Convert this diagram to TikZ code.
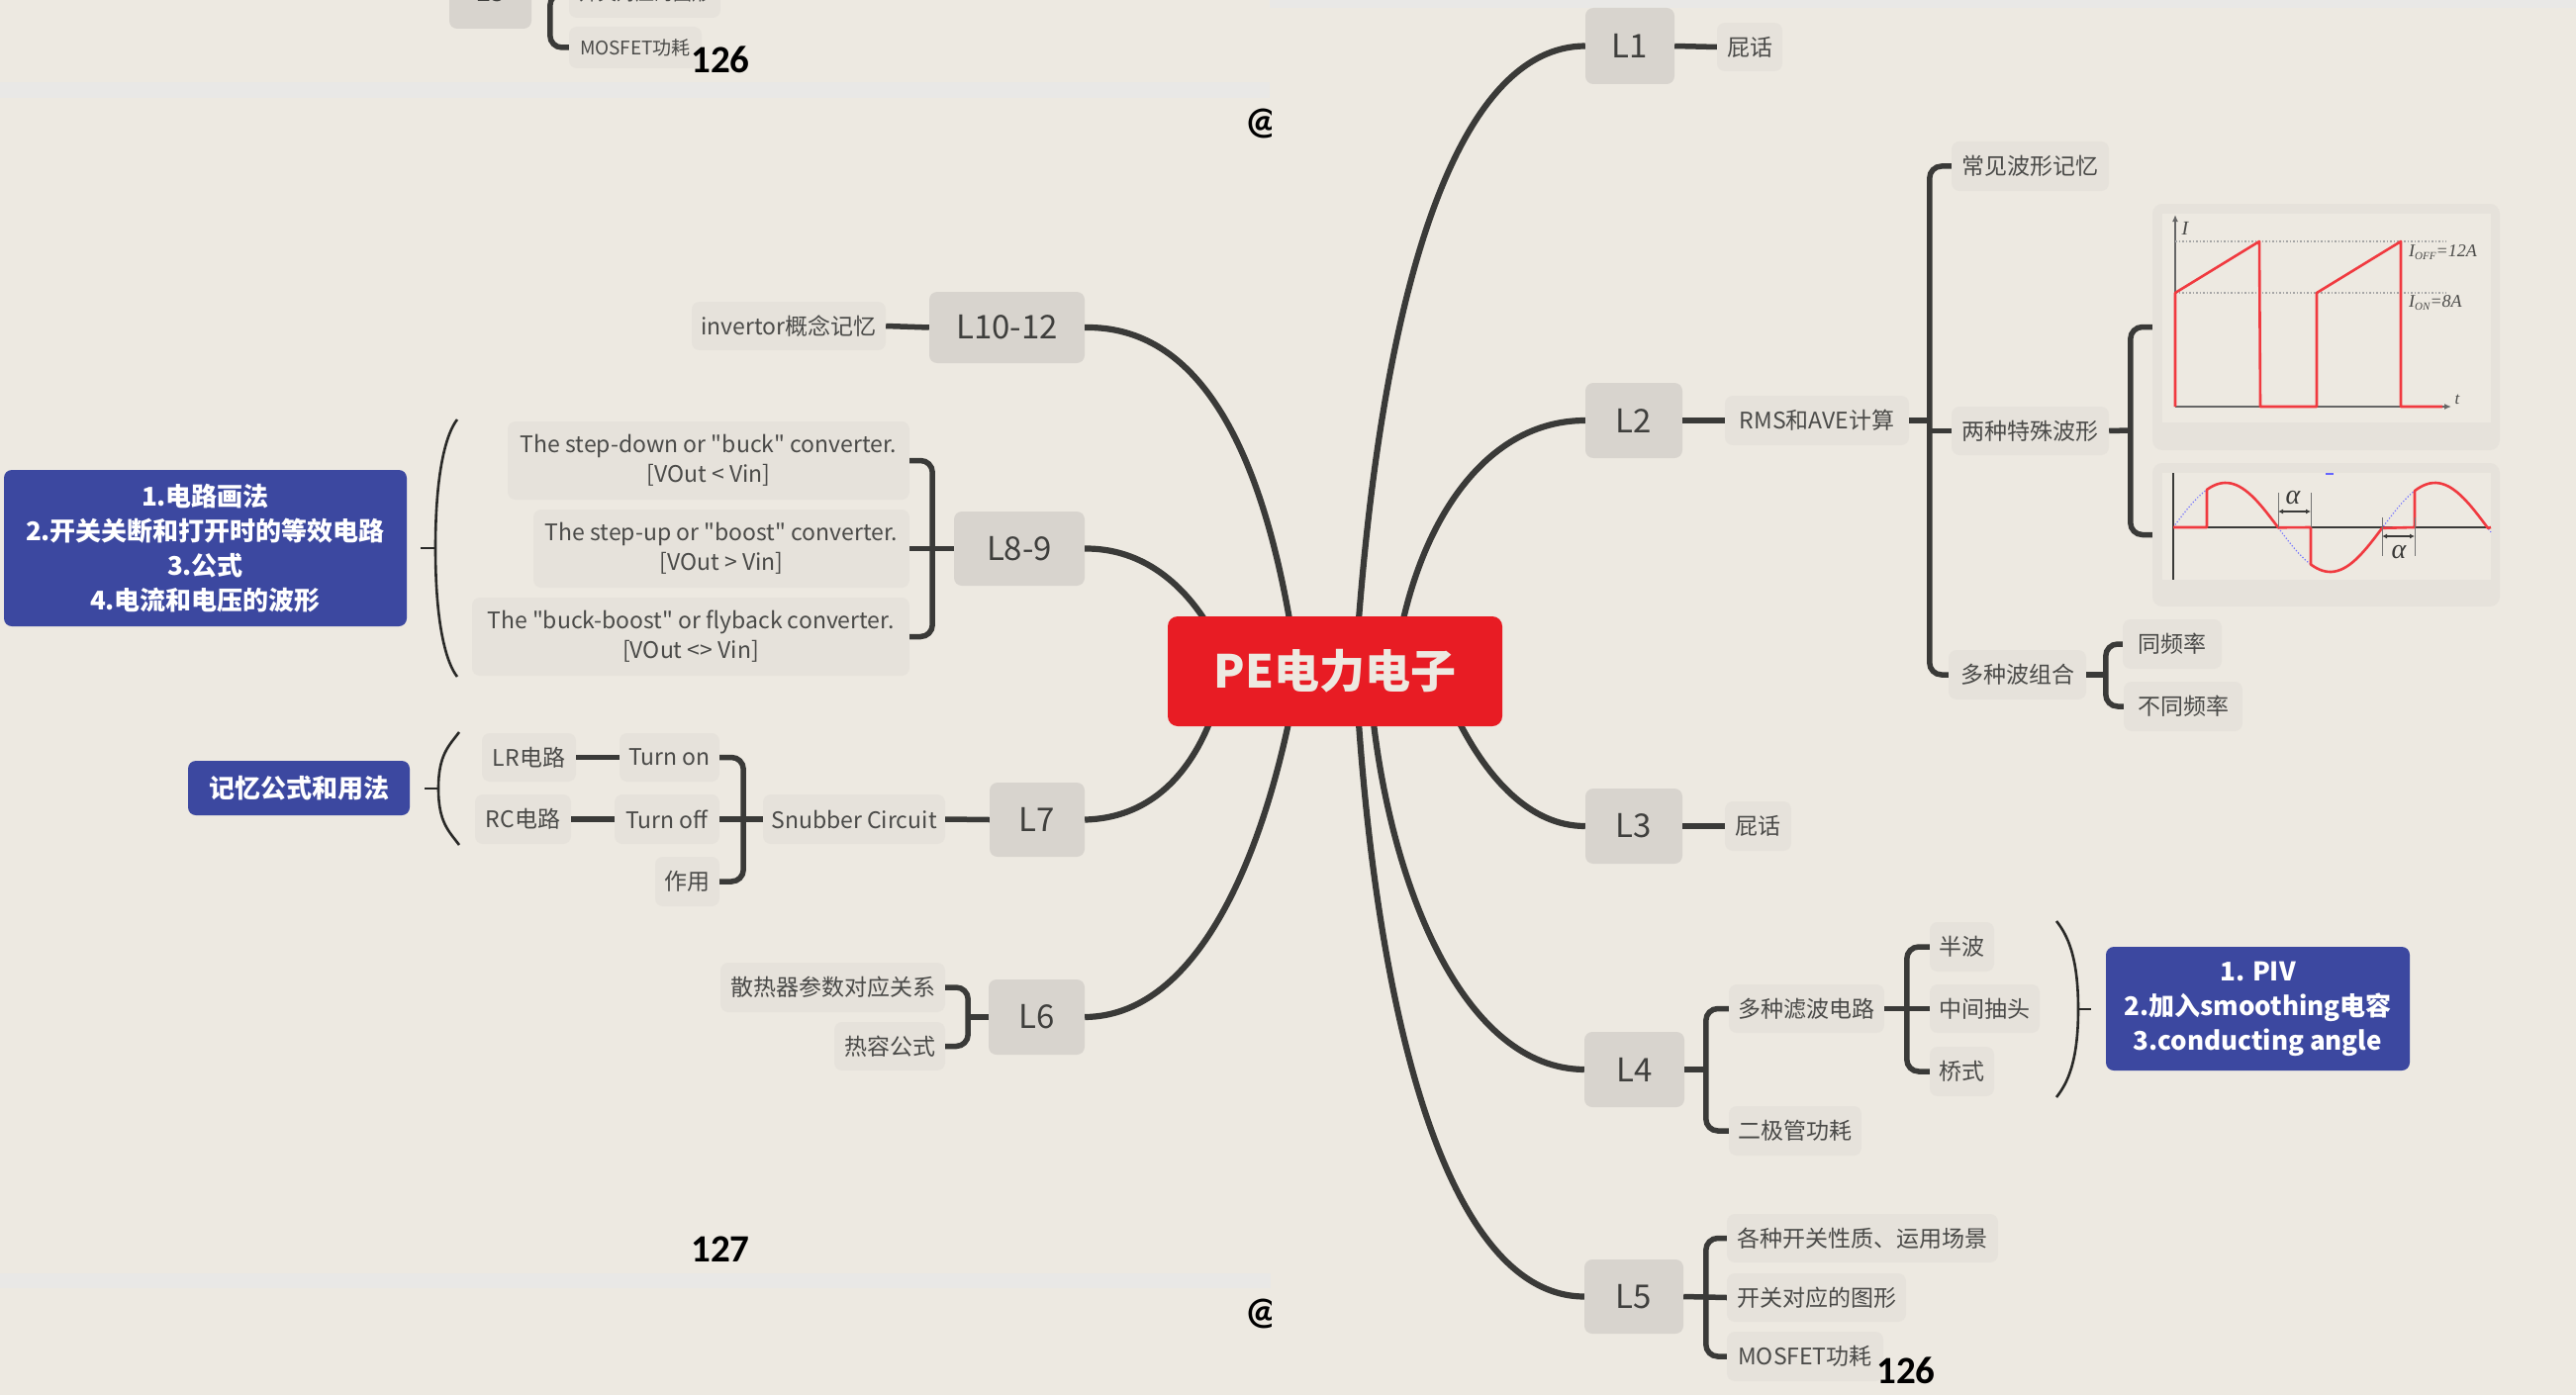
\documentclass[tikz,border=0pt]{standalone}
\usepackage{fontspec}
\setmainfont{Noto Sans CJK SC}
\newfontfamily\plainf{Noto Sans CJK SC}
\newfontfamily\serf{Liberation Serif}
\newfontfamily\carl{Carlito}
\newcommand\stq{{\plainf\char34\relax}}
\usetikzlibrary{arrows.meta}
\definecolor{bgc}{HTML}{EDE9E1}
\definecolor{stripec}{HTML}{E9E8E6}
\definecolor{subc}{HTML}{E6E2DB}
\definecolor{lvlc}{HTML}{D8D4CE}
\definecolor{redc}{HTML}{E81C24}
\definecolor{bluec}{HTML}{3C48A0}
\definecolor{linec}{HTML}{3A3A38}
\definecolor{txtc}{HTML}{4A4A48}
\definecolor{wave}{HTML}{F03A40}
\tikzset{
 x=1pt,y=-1pt,
 subn/.style={fill=subc,rounded corners=8pt,text=txtc,font=\fontsize{23}{30}\selectfont,align=center,inner sep=0pt},
 lvln/.style={fill=lvlc,rounded corners=8pt,text=txtc!85!black,font=\fontsize{33}{40}\selectfont,inner sep=0pt},
 bluen/.style={fill=bluec,rounded corners=8pt,text=white,font=\fontsize{26}{35}\selectfont\bfseries,align=center,inner sep=0pt},
 rootn/.style={fill=redc,rounded corners=10pt,text=bgc,font=\fontsize{46}{50}\selectfont\bfseries,inner sep=0pt},
 mainl/.style={draw=linec,line width=6.2pt},
 conn/.style={draw=linec,line width=5.5pt,rounded corners=12pt},
 bracec/.style={draw=linec!70!black,line width=2.6pt},
 pagen/.style={font=\fontsize{39}{40}\selectfont\carl\bfseries,text=black,inner sep=0pt},
 frm/.style={fill=subc,rounded corners=10pt},
 inn/.style={fill=bgc},
}
\newcommand\bx[7]{\node[#6,minimum width={(#4-#2)*1pt},minimum height={(#5-#3)*1pt},at={({(#2+#4)/2},{(#3+#5)/2})}] (#1) {#7};}
% left-opening brace: tipx, y1, y2, bodyx, tickx
\newcommand\brc[5]{\draw[bracec] (#1,#2) .. controls ({(#1+#4)/2},{#2+14}) and (#4,{#2+(#3-#2)*0.2}) .. (#4,{(#2+#3)/2}) .. controls (#4,{#3-(#3-#2)*0.2}) and ({(#1+#4)/2},{#3-14}) .. (#1,#3);
 \draw[bracec] (#5,{(#2+#3)/2}) -- (#4,{(#2+#3)/2});}
\begin{document}
\begin{tikzpicture}
\useasboundingbox (0,0) rectangle (2603,1410);
\clip (0,0) rectangle (2603,1410);
\fill[bgc] (0,0) rectangle (2603,1410);
\fill[stripec] (0,83) rectangle (1283,99);
\fill[stripec] (1283,0) rectangle (2603,8);
\fill[stripec] (0,1287) rectangle (1284,1302);
% page marks clipped at the seam
\begin{scope}
\clip (1200,100) rectangle (1284,160);
\node[pagen] (at1) at (1276,125) {@};
\end{scope}
\begin{scope}
\clip (1200,1303) rectangle (1284,1360);
\node[pagen] (at2) at (1276,1328) {@};
\end{scope}

% level nodes
\bx{L1}{1602}{8}{1692}{85}{lvln}{L1}
\bx{L2}{1602}{387}{1700}{463}{lvln}{L2}
\bx{L3}{1602}{797}{1700}{873}{lvln}{L3}
\bx{L4}{1601}{1043}{1702}{1119}{lvln}{L4}
\bx{L5}{1601}{1273}{1701}{1348}{lvln}{L5}
\bx{L10}{939}{295}{1096}{367}{lvln}{L10-12}
\bx{L8}{964}{517}{1096}{592}{lvln}{L8-9}
\bx{L7}{1000}{791}{1096}{866}{lvln}{L7}
\bx{L6}{999}{990}{1096}{1066}{lvln}{L6}

% root attachment points
\coordinate (rL10) at (1303,626);
\coordinate (rL8) at (1217,626);
\coordinate (rL7) at (1222,731);
\coordinate (rL6) at (1302,731);
\coordinate (rL1) at (1373,626);
\coordinate (rL2) at (1418,626);
\coordinate (rL3) at (1475,731);
\coordinate (rL4) at (1388,731);
\coordinate (rL5) at (1373,731);
\draw[mainl] (L10.east) .. controls (1210,329) and (1272,450) .. (rL10);
\draw[mainl] (L8.east) .. controls (1150,554) and (1190,585) .. (rL8);
\draw[mainl] (L7.east) .. controls (1160,827) and (1200,785) .. (rL7);
\draw[mainl] (L6.east) .. controls (1205,1027) and (1270,880) .. (rL6);
\draw[mainl] (L1.west) .. controls (1475,47) and (1400,280) .. (rL1);
\draw[mainl] (L2.west) .. controls (1510,425) and (1445,510) .. (rL2);
\draw[mainl] (L3.west) .. controls (1545,835) and (1503,785) .. (rL3);
\draw[mainl] (L4.west) .. controls (1480,1080) and (1408,900) .. (rL4);
\draw[mainl] (L5.west) .. controls (1465,1310) and (1395,1040) .. (rL5);
\bx{root}{1180}{623}{1518}{734}{rootn}{PE电力电子}

% left subtree
\bx{inv}{699}{305}{895}{354}{subn}{invertor概念记忆}
\draw[conn] (inv.east) -- (L10.west);
\bx{sd}{513}{426}{919}{505}{subn}{The step-down or \stq buck\stq{} converter.\\{}[VOut < Vin]}
\bx{su}{539}{515}{919}{594}{subn}{The step-up or \stq boost\stq{} converter.\\{}[VOut > Vin]}
\bx{bb}{477}{604}{919}{683}{subn}{The \stq buck-boost\stq{} or flyback converter.\\{}[VOut <> Vin]}
\draw[conn] (sd.east) -- ++(23,0) |- (bb.east);
\draw[conn] (su.east) -- (L8.west);
\bx{b1}{4}{475}{411}{633}{bluen}{1.电路画法\\2.开关关断和打开时的等效电路\\3.公式\\4.电流和电压的波形}
\brc{462}{424}{684}{440}{425}

\bx{lr}{487}{741}{582}{790}{subn}{LR电路}
\bx{ton}{626}{741}{727}{790}{subn}{Turn on}
\bx{rc}{480}{803}{577}{853}{subn}{RC电路}
\bx{toff}{621}{803}{727}{853}{subn}{Turn off}
\bx{zy}{662}{866}{727}{916}{subn}{作用}
\bx{snub}{771}{803}{955}{853}{subn}{Snubber Circuit}
\draw[conn] (lr.east) -- (ton.west);
\draw[conn] (rc.east) -- (toff.west);
\draw[conn] (ton.east) -- ++(24,0) |- (zy.east);
\draw[conn] (toff.east) -- (snub.west);
\draw[conn] (snub.east) -- (L7.west);
\bx{b2}{190}{769}{414}{824}{bluen}{记忆公式和用法}
\brc{464}{740}{854}{443}{429}

\bx{sr}{728}{973}{955}{1023}{subn}{散热器参数对应关系}
\bx{rr}{843}{1033}{955}{1082}{subn}{热容公式}
\draw[conn] (sr.east) -- ++(23,0) |- (rr.east);
\coordinate (l6j) at (978,1028);
\draw[conn] (l6j) -- (L6.west);

% top-left leftover
\bx{oL5}{454}{-46}{537}{29}{lvln,font=\fontsize{28}{30}\selectfont}{L5}
\bx{okg}{575}{-31}{728}{18}{subn,font=\fontsize{19}{24}\selectfont}{开关对应的图形}
\bx{omos}{575}{27}{709}{69}{subn,font=\fontsize{19}{24}\selectfont}{MOSFET功耗}
\draw[conn] (omos.west) -- ++(-19,0) |- (okg.west);
\draw[conn] (oL5.east) -- (okg.west);
\node[pagen] (p126a) at (728,60) {126};
\node[pagen] (p127) at (728,1263) {127};

% right subtree
\bx{pa}{1735}{23}{1801}{72}{subn}{屁话}
\draw[conn] (L1.east) -- (pa.west);
\bx{rms}{1743}{400}{1929}{450}{subn}{RMS和AVE计算}
\draw[conn] (L2.east) -- (rms.west);
\bx{cj}{1972}{143}{2131}{193}{subn}{常见波形记忆}
\bx{ts}{1972}{411}{2131}{460}{subn}{两种特殊波形}
\bx{dz}{1969}{657}{2108}{707}{subn}{多种波组合}
\draw[conn] (cj.west) -- ++(-22,0) |- (dz.west);
\draw[conn] (rms.east) -- ++(21,0);
\draw[conn] (ts.west) -- ++(-22,0);
\bx{tp}{2145}{626}{2245}{676}{subn}{同频率}
\bx{bt}{2146}{689}{2266}{739}{subn}{不同频率}
\draw[conn] (tp.west) -- ++(-17,0) |- (bt.west);
\draw[conn] (dz.east) -- ++(20,0);

% image 1
\bx{f1}{2175}{206}{2526}{455}{frm}{}
\fill[inn] (2185,216) rectangle (2517,427);
\draw[black!60,line width=1.5pt,-{Latex[length=7pt,width=6pt]}] (2198,411) -- (2477,411);
\draw[black!60,line width=1.5pt,-{Latex[length=7pt,width=6pt]}] (2198,411) -- (2198,217);
\draw[gray!70,line width=1.5pt,dotted] (2198,244) -- (2472,244);
\draw[gray!70,line width=1.5pt,dotted] (2198,296) -- (2472,296);
\draw[wave,line width=2.6pt,line join=round] (2198,411) -- (2198,296) -- (2283,244) -- (2284,411) -- (2341,411) -- (2341,296) -- (2426,244) -- (2426,411) -- (2468,411);
\node[font=\fontsize{20}{20}\selectfont\serf\itshape,text=txtc] (iI) at (2208,231) {I};
\node[font=\fontsize{17}{20}\selectfont\serf\itshape,text=txtc] (it) at (2483,404) {t};
\node[font=\fontsize{18}{20}\selectfont\serf\itshape,text=txtc,anchor=west,inner sep=0pt] (ioff) at (2434,255) {I\raisebox{-3pt}{\fontsize{11}{11}\selectfont OFF}=12A};
\node[font=\fontsize{18}{20}\selectfont\serf\itshape,text=txtc,anchor=west,inner sep=0pt] (ion) at (2434,306) {I\raisebox{-3pt}{\fontsize{11}{11}\selectfont ON}=8A};

% image 2
\bx{f2}{2175}{468}{2526}{613}{frm}{}
\fill[inn] (2185,478) rectangle (2517,586);
\draw[blue!60,line width=2pt] (2350,479) -- (2358,479);
\draw[blue!55!white,line width=1.2pt,dotted,domain=2196:2517,samples=90] plot (\x,{533-45*sin((\x-2196)/105.8*180)});
\draw[linec,line width=1.4pt] (2196,533) -- (2517,533);
\draw[linec,line width=2pt] (2196,478) -- (2196,586);
\draw[wave,line width=2.6pt,line join=round] (2196,533) -- (2230,533) -- (2230,{533-45*sin((2230-2196)/105.8*180)})
  -- plot[domain=2230:2302,samples=25] (\x,{533-45*sin((\x-2196)/105.8*180)})
  -- (2335,533) -- (2335,{533-45*sin((2335-2196)/105.8*180)})
  -- plot[domain=2335:2407,samples=25] (\x,{533-45*sin((\x-2196)/105.8*180)})
  -- (2440,533) -- (2440,{533-45*sin((2440-2196)/105.8*180)})
  -- plot[domain=2440:2514,samples=25] (\x,{533-45*sin((\x-2196)/105.8*180)})
  -- (2517,533);
\draw[linec!70,line width=1pt] (2302,498) -- (2302,533) (2335,498) -- (2335,533) (2407,523) -- (2407,562) (2440,523) -- (2440,562);
\draw[linec,line width=1.2pt,{Latex[length=5pt,width=5pt]}-{Latex[length=5pt,width=5pt]}] (2302,517) -- (2335,517);
\draw[linec,line width=1.2pt,{Latex[length=5pt,width=5pt]}-{Latex[length=5pt,width=5pt]}] (2407,542) -- (2440,542);
\node[font=\fontsize{28}{28}\selectfont\serf\itshape,text=linec,inner sep=0pt] (a1) at (2317,503) {α};
\node[font=\fontsize{28}{28}\selectfont\serf\itshape,text=linec,inner sep=0pt] (a2) at (2424,558) {α};

% image connector
\draw[conn] (f1.west) -- ++(-22,0) |- (f2.west);
\coordinate (tsj) at (2152,435);
\draw[conn] (ts.east) -- (tsj);

\bx{pb}{1743}{810}{1810}{860}{subn}{屁话}
\draw[conn] (L3.east) -- (pb.west);
\bx{dl}{1747}{995}{1904}{1044}{subn}{多种滤波电路}
\bx{ej}{1747}{1118}{1881}{1168}{subn}{二极管功耗}
\draw[conn] (dl.west) -- ++(-23,0) |- (ej.west);
\draw[conn] (L4.east) -- ++(22,0);
\bx{bw}{1950}{932}{2015}{982}{subn}{半波}
\bx{zj}{1950}{995}{2061}{1044}{subn}{中间抽头}
\bx{qs}{1950}{1058}{2015}{1108}{subn}{桥式}
\draw[conn] (bw.west) -- ++(-23,0) |- (qs.west);
\draw[conn] (dl.east) -- (zj.west);
\brc{2078}{931}{1109}{2100}{2113}
\bx{b3}{2128}{957}{2435}{1082}{bluen}{1. PIV\\2.加入smoothing电容\\3.conducting angle}

\bx{gz}{1745}{1227}{2019}{1276}{subn}{各种开关性质、运用场景}
\bx{kg}{1745}{1287}{1926}{1336}{subn}{开关对应的图形}
\bx{mos}{1745}{1346}{1903}{1396}{subn}{MOSFET功耗}
\draw[conn] (gz.west) -- ++(-21,0) |- (mos.west);
\draw[conn] (L5.east) -- (kg.west);
\node[pagen] (p126b) at (1926,1385) {126};
\end{tikzpicture}
\end{document}
